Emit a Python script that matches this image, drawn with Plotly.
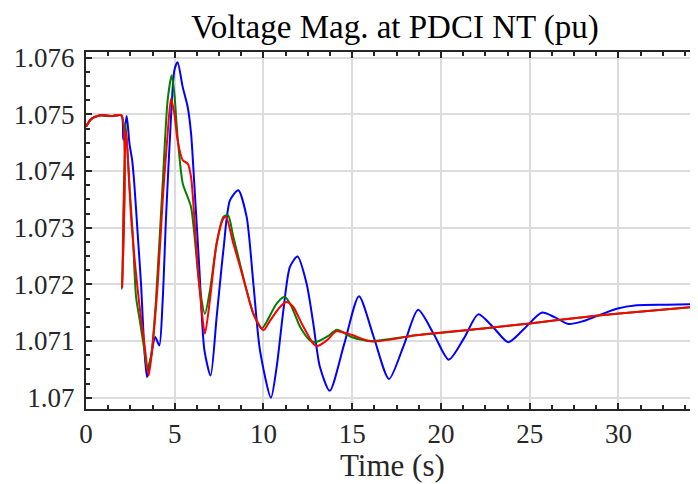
import plotly.graph_objects as go

# ---- data ----
blue_t = [0, 0.3, 0.75, 1.5, 2.0, 2.1, 2.29, 2.45, 2.6, 2.72, 2.91, 3.1, 3.29, 3.44, 3.66, 3.9, 4.13,
          4.32, 4.51, 4.79, 4.98, 5.16, 5.45, 5.73, 5.92, 6.1, 6.38, 6.67, 7.02, 7.36, 7.74, 8.11,
          8.58, 9.05, 9.43, 9.8, 10.42, 10.74, 11.12, 11.49, 11.92, 12.43, 12.81, 13.18, 13.73,
          14.55, 15.38, 16.2, 17.07, 17.9, 18.71, 19.6, 20.44, 21.3, 22.1, 22.95, 23.79, 24.7,
          25.67, 26.4, 27.18, 28.0, 28.78, 29.9, 31.03, 32.7, 34.5]
blue_v = [1.07478, 1.07492, 1.07498, 1.07497, 1.07498, 1.07455, 1.07497, 1.07448, 1.07419, 1.07378,
          1.0729, 1.07201, 1.07084, 1.07036, 1.07072, 1.07107, 1.07092, 1.07172, 1.07319, 1.07495,
          1.07578, 1.07592, 1.07548, 1.07513, 1.07466, 1.07378, 1.07231, 1.07084, 1.07039, 1.07142,
          1.0726, 1.07348, 1.07366, 1.07319, 1.07201, 1.07084, 1.07000, 1.07054, 1.07154, 1.07231,
          1.07249, 1.07201, 1.0713, 1.07054, 1.07012, 1.07095, 1.07179, 1.07108, 1.07033, 1.07092,
          1.07155, 1.07112, 1.07067, 1.07105, 1.07147, 1.07124, 1.07098, 1.07122, 1.0715, 1.07142,
          1.0713, 1.07135, 1.07144, 1.07157, 1.07163, 1.07164, 1.07165]

green_t = [0, 0.3, 0.75, 1.5, 2.0, 2.03, 2.23, 2.44, 2.63, 2.82, 3.0, 3.29, 3.44, 3.66, 3.94, 4.32,
           4.6, 4.83, 4.98, 5.16, 5.45, 5.73, 5.92, 6.1, 6.38, 6.7, 6.98, 7.36, 7.74, 8.0, 8.3,
           8.68, 9.05, 9.43, 9.9, 10.18, 10.74, 11.2, 11.59, 12.06, 12.62, 12.97, 13.6, 14.14,
           14.95, 16.08, 18.6, 22.38, 25.0, 28.0, 29.9, 34.5]
green_v = [1.07478, 1.07492, 1.07498, 1.07497, 1.07498, 1.07192, 1.07484, 1.07378, 1.0729, 1.07178,
           1.07142, 1.07084, 1.07051, 1.07072, 1.07172, 1.07378, 1.07525, 1.07569, 1.07536, 1.0746,
           1.07378, 1.07354, 1.07336, 1.0729, 1.07201, 1.07148, 1.07189, 1.07272, 1.07319, 1.07322,
           1.07284, 1.07236, 1.07189, 1.07148, 1.07122, 1.07134, 1.07166, 1.07178, 1.0716, 1.07125,
           1.07101, 1.07098, 1.07108, 1.0712, 1.07107, 1.071, 1.0711, 1.07122, 1.07131, 1.07142,
           1.07148, 1.07161]

red_t = [0, 0.3, 0.75, 1.5, 2.0, 2.04, 2.25, 2.54, 2.78, 3.0, 3.29, 3.53, 3.76, 4.04, 4.32, 4.6,
         4.79, 4.98, 5.16, 5.45, 5.73, 5.92, 6.1, 6.29, 6.48, 6.7, 6.98, 7.36, 7.74, 7.89, 8.3,
         8.68, 9.05, 9.43, 10.0, 10.37, 10.93, 11.3, 11.68, 12.15, 12.81, 13.03, 13.6, 14.1,
         14.95, 16.08, 18.6, 22.38, 25.0, 28.0, 29.9, 34.5]
red_v = [1.07478, 1.07492, 1.07498, 1.07497, 1.07498, 1.07195, 1.07472, 1.07319, 1.07231, 1.07166,
         1.07095, 1.07039, 1.07095, 1.07201, 1.07348, 1.07466, 1.07528, 1.07501, 1.07454, 1.07419,
         1.07413, 1.07389, 1.07319, 1.07231, 1.07166, 1.07113, 1.07172, 1.07272, 1.07316, 1.07319,
         1.07272, 1.07231, 1.07189, 1.07148, 1.07119, 1.07136, 1.0716, 1.07169, 1.0716, 1.07131,
         1.07095, 1.07091, 1.07102, 1.07117, 1.07111, 1.07099, 1.0711, 1.07122, 1.07131, 1.07142,
         1.07148, 1.07161]

x_ticks = [0, 5, 10, 15, 20, 25, 30]
y_ticks = [1.07, 1.071, 1.072, 1.073, 1.074, 1.075, 1.076]
y_tick_text = ["1.07", "1.071", "1.072", "1.073", "1.074", "1.075", "1.076"]

TITLE = "Voltage Mag. at PDCI NT (pu)"
XLABEL = "Time (s)"

FONT = "Liberation Serif"
AX = "#262626"

# page body has an 8px margin: figure is sized/offset so the plot lands where the reference has it
W, H = 690, 476
ML, MT, MB = 78, 44, 75
PLOT_H = H - MT - MB

fig = go.Figure()
for t, v, c in [(blue_t, blue_v, "#0000FF"), (green_t, green_v, "#008000"), (red_t, red_v, "#FF0000")]:
    fig.add_trace(go.Scatter(x=t, y=v, mode="lines",
                             line=dict(color=c, width=2, shape="spline", smoothing=0.7),
                             showlegend=False, hoverinfo="skip"))

axis_common = dict(showline=True, linecolor=AX, linewidth=2, mirror="ticks",
                   ticks="inside", ticklen=6, tickwidth=1.5, tickcolor=AX,
                   showgrid=True, gridcolor="#dcdcdc", gridwidth=1.5, zeroline=False,
                   automargin=False,
                   tickfont=dict(family=FONT, size=27, color=AX))

fig.update_xaxes(range=[0, 34.48], tickvals=x_ticks, ticklabelstandoff=0,
                 minor=dict(dtick=1.25, tick0=0, ticks="inside", ticklen=4, tickcolor=AX,
                            showgrid=False),
                 **axis_common)
fig.update_yaxes(range=[1.0698, 1.0761], tickvals=y_ticks, ticktext=y_tick_text,
                 ticklabelstandoff=4,
                 minor=dict(dtick=0.00025, tick0=1.07, ticks="inside", ticklen=4, tickcolor=AX,
                            showgrid=False),
                 **axis_common)

fig.update_layout(
    width=W, height=H,
    margin=dict(l=ML, r=0, t=MT, b=MB),
    paper_bgcolor="white", plot_bgcolor="white",
    title=dict(text=TITLE, x=387 / W, xanchor="center", xref="container",
               y=1 - 18 / H, yanchor="middle", yref="container",
               font=dict(family=FONT, size=33, color="black")),
    annotations=[dict(text=XLABEL, xref="paper", yref="paper", x=0.5, y=-(458 - (MT + PLOT_H)) / PLOT_H,
                      xanchor="center", yanchor="middle", showarrow=False,
                      font=dict(family=FONT, size=31, color=AX))],
)

fig.write_html("out.html", config={"displayModeBar": False})
